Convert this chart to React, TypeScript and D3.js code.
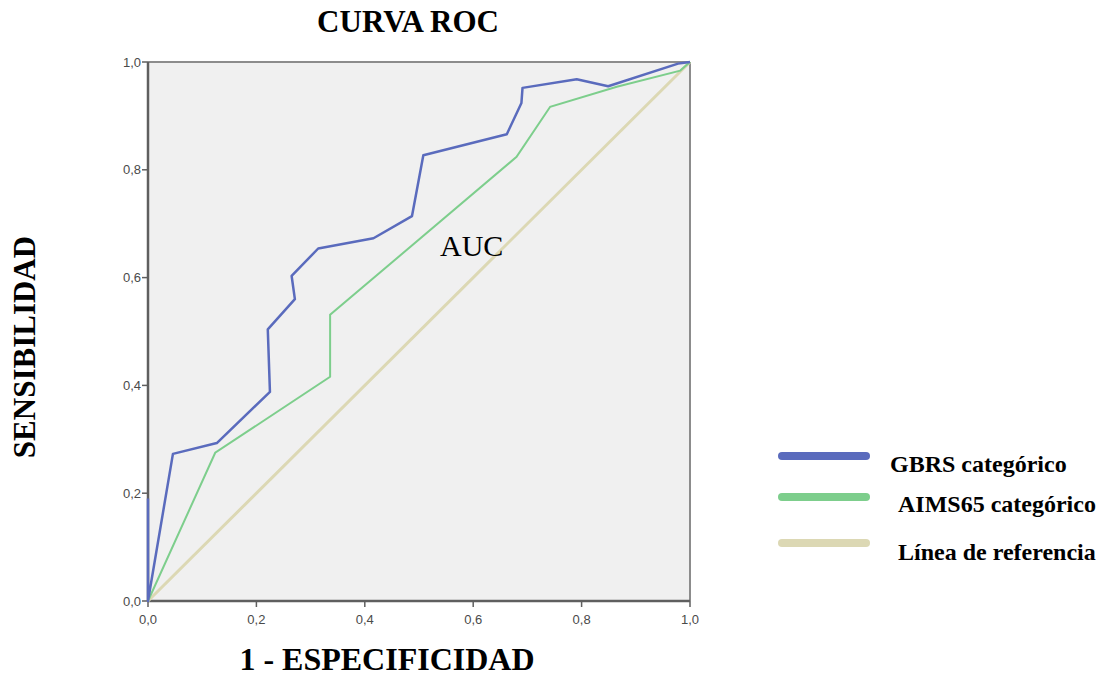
import React from "react";
import * as d3 from "d3";

const W = 1113;
const H = 677;

const xTicks = [0, 0.2, 0.4, 0.6, 0.8, 1.0];
const yTicks = [0, 0.2, 0.4, 0.6, 0.8, 1.0];

// GBRS categórico (1 - especificidad, sensibilidad)
const gbrsX = [0, 0, 0.046, 0.127, 0.225, 0.221, 0.271, 0.265, 0.314, 0.416, 0.487, 0.508, 0.662, 0.689, 0.691, 0.791, 0.849, 0.978, 1.0];
const gbrsY = [0.19, 0, 0.273, 0.293, 0.388, 0.504, 0.56, 0.603, 0.654, 0.673, 0.714, 0.827, 0.866, 0.924, 0.952, 0.968, 0.955, 0.997, 1.0];

// AIMS65 categórico
const aimsX = [0, 0.124, 0.336, 0.336, 0.68, 0.742, 0.865, 0.982, 1.0];
const aimsY = [0, 0.275, 0.416, 0.531, 0.824, 0.917, 0.954, 0.984, 1.0];

// Línea de referencia
const refX = [0, 1];
const refY = [0, 1];

const seriesNames = ["GBRS categórico", "AIMS65 categórico", "Línea de referencia"];
const seriesColors = ["#5a6bbd", "#7dce8c", "#dcd8b4"];

export default function App() {
  const left = 148, right = 690, top = 62, bottom = 601;
  const x = d3.scaleLinear().domain([0, 1]).range([left, right]);
  const y = d3.scaleLinear().domain([0, 1]).range([bottom, top]);
  const fmt = (v: number) => v.toFixed(1).replace(".", ",");

  const line = d3.line<[number, number]>().x((d) => x(d[0])).y((d) => y(d[1]));
  const zip = (a: number[], b: number[]) => a.map((v, i) => [v, b[i]] as [number, number]);

  const serif = "'Liberation Serif', 'Times New Roman', serif";
  const sans = "'Liberation Sans', Arial, sans-serif";

  const legendY = [456, 497, 543];
  const legendTextX = [890, 898, 898];
  const legendTextY = [472, 512, 560];

  return (
    <svg
      width={W}
      height={H}
      style={{ position: "absolute", left: 0, top: 0, background: "#fff" }}
    >
      <text x={408} y={32} textAnchor="middle" fontFamily={serif} fontWeight="bold" fontSize={31}>
        CURVA ROC
      </text>

      <rect x={left} y={top} width={right - left} height={bottom - top} fill="#f0f0f0" />
      {/* frame top/right */}
      <line x1={left} x2={right} y1={top} y2={top} stroke="#8c8c8c" strokeWidth={2} />
      <line x1={right} x2={right} y1={top} y2={bottom} stroke="#8c8c8c" strokeWidth={2} />
      {/* axes */}
      <line x1={left} x2={left} y1={top} y2={bottom} stroke="#5f5f5f" strokeWidth={2.5} />
      <line x1={left} x2={right} y1={bottom} y2={bottom} stroke="#5f5f5f" strokeWidth={2.5} />

      {yTicks.map((t) => (
        <g key={"y" + t}>
          <line x1={left - 6} x2={left} y1={y(t)} y2={y(t)} stroke="#5f5f5f" strokeWidth={1.5} />
          <text x={left - 7} y={y(t) + 4.5} textAnchor="end" fontFamily={sans} fontSize={13} fill="#4a4a4a">
            {fmt(t)}
          </text>
        </g>
      ))}
      {xTicks.map((t) => (
        <g key={"x" + t}>
          <line x1={x(t)} x2={x(t)} y1={bottom} y2={bottom + 6} stroke="#5f5f5f" strokeWidth={1.5} />
          <text x={x(t)} y={bottom + 23} textAnchor="middle" fontFamily={sans} fontSize={13} fill="#4a4a4a">
            {fmt(t)}
          </text>
        </g>
      ))}

      <path d={line(zip(refX, refY)) || ""} fill="none" stroke={seriesColors[2]} strokeWidth={3} />
      <path d={line(zip(aimsX, aimsY)) || ""} fill="none" stroke={seriesColors[1]} strokeWidth={2} />
      <path d={line(zip(gbrsX, gbrsY)) || ""} fill="none" stroke={seriesColors[0]} strokeWidth={2.5} strokeLinejoin="round" />

      <text x={440} y={256} fontFamily={serif} fontSize={30}>
        AUC
      </text>

      <text x={387} y={670} textAnchor="middle" fontFamily={serif} fontWeight="bold" fontSize={32}>
        1 - ESPECIFICIDAD
      </text>
      <text
        transform={`translate(35,347) rotate(-90)`}
        textAnchor="middle"
        fontFamily={serif}
        fontWeight="bold"
        fontSize={31}
      >
        SENSIBILIDAD
      </text>

      {seriesNames.map((n, i) => (
        <g key={n}>
          <line
            x1={782}
            x2={866}
            y1={legendY[i]}
            y2={legendY[i]}
            stroke={seriesColors[i]}
            strokeWidth={8}
            strokeLinecap="round"
          />
          <text x={legendTextX[i]} y={legendTextY[i]} fontFamily={serif} fontWeight="bold" fontSize={24}>
            {n}
          </text>
        </g>
      ))}
    </svg>
  );
}
